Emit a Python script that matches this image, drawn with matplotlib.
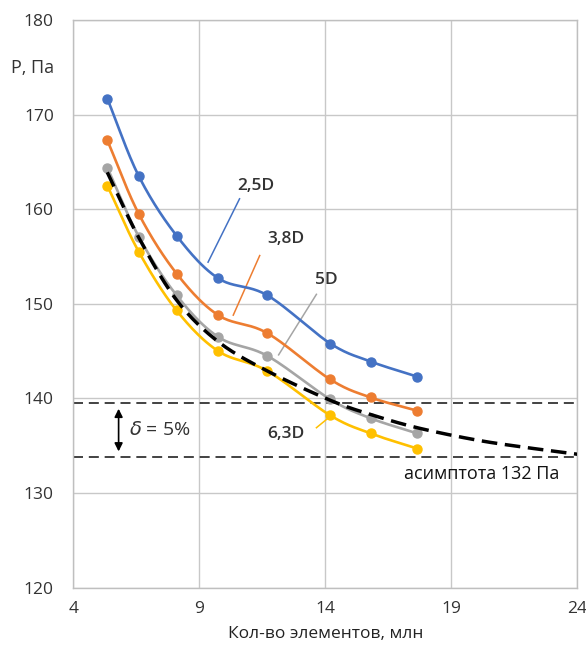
#!/usr/bin/env python3

import matplotlib

matplotlib.use("Agg")
import matplotlib.pyplot as plt
import numpy as np

plt.rcParams["font.family"] = ["Open Sans", "DejaVu Sans"]

# Mesh size, million elements
n_elements = [5.35, 6.6, 8.1, 9.75, 11.7, 14.2, 15.8, 17.65]

# Pressure, Pa, per domain size
p_25d = [171.7, 163.5, 157.2, 152.7, 150.9, 145.8, 143.9, 142.3]
p_38d = [167.3, 159.5, 153.2, 148.8, 146.9, 142.0, 140.1, 138.7]
p_5d = [164.4, 157.1, 150.9, 146.5, 144.5, 139.9, 137.9, 136.3]
p_63d = [162.5, 155.5, 149.3, 145.0, 142.9, 138.2, 136.3, 134.7]

# Asymptotic trend (black dashed)
asym_x = [5.35, 6.6, 8.1, 9.75, 11.7, 14.2, 15.8, 17.65, 20.0, 22.0, 24.0]
asym_y = [163.9, 157.0, 150.4, 146.0, 142.9, 139.8, 138.3, 136.9, 135.6, 134.8, 134.1]

band_top = 139.5
band_bottom = 133.8

series = [
    ("2,5D", p_25d, "#4472C4"),
    ("3,8D", p_38d, "#ED7D31"),
    ("5D", p_5d, "#A5A5A5"),
    ("6,3D", p_63d, "#FFC000"),
]


def smooth(x, y, n=24):
    """Catmull-Rom curve through the points, like Excel's smoothed line."""
    x = np.asarray(x, dtype=float)
    y = np.asarray(y, dtype=float)
    px = np.concatenate([[2 * x[0] - x[1]], x, [2 * x[-1] - x[-2]]])
    py = np.concatenate([[2 * y[0] - y[1]], y, [2 * y[-1] - y[-2]]])
    t = np.linspace(0, 1, n)
    xs, ys = [], []
    for i in range(1, len(px) - 2):
        for arr, out in ((px, xs), (py, ys)):
            p0, p1, p2, p3 = arr[i - 1], arr[i], arr[i + 1], arr[i + 2]
            out.append(
                0.5
                * (
                    2 * p1
                    + (-p0 + p2) * t
                    + (2 * p0 - 5 * p1 + 4 * p2 - p3) * t**2
                    + (-p0 + 3 * p1 - 3 * p2 + p3) * t**3
                )
            )
    return np.concatenate(xs), np.concatenate(ys)


def main() -> None:
    fig = plt.figure(figsize=(5.86, 6.45), dpi=100)
    ax = fig.add_axes([0.125, 0.089, 0.86, 0.88])

    for label, values, color in series:
        sx, sy = smooth(n_elements, values)
        ax.plot(sx, sy, color=color, lw=1.9, zorder=3)
        ax.plot(n_elements, values, "o", color=color, ms=6.5, zorder=4)

    ax_x, ax_y = smooth(asym_x, asym_y)
    ax.plot(ax_x, ax_y, color="black", lw=2.5, dashes=(4.5, 2.2), zorder=5)

    for yv in (band_top, band_bottom):
        ax.axhline(yv, color="#222222", lw=1.2, dashes=(6, 3.5), zorder=2)

    # curve labels with leader lines
    txt = dict(fontsize=12.5, fontweight="semibold", color="#333333", ha="center", va="center")
    ax.text(11.25, 162.4, "2,5D", **txt)
    ax.plot([10.6, 9.35], [161.1, 154.4], color="#4472C4", lw=1.1)
    ax.text(12.45, 156.8, "3,8D", **txt)
    ax.plot([11.4, 10.35], [155.1, 148.8], color="#ED7D31", lw=1.1)
    ax.text(14.05, 152.5, "5D", **txt)
    ax.plot([13.65, 12.15], [151.0, 144.6], color="#A5A5A5", lw=1.1)
    ax.text(12.45, 136.2, "6,3D", **txt)
    ax.plot([13.65, 14.2], [136.9, 138.1], color="#FFC000", lw=1.1)

    ax.annotate(
        "",
        xy=(5.8, band_bottom + 0.3),
        xytext=(5.8, band_top - 0.3),
        arrowprops=dict(arrowstyle="<|-|>", color="black", lw=1.2, mutation_scale=12),
    )
    ax.text(6.2, 136.7, r"$\delta$ = 5%", fontsize=14, color="#333333", va="center")
    ax.text(20.2, 132.0, "асимптота 132 Па", fontsize=13, color="#111111", ha="center", va="center")

    ax.set_xlim(4, 24)
    ax.set_ylim(120, 180)
    ax.set_xticks([4, 9, 14, 19, 24])
    ax.set_yticks(np.arange(120, 181, 10))
    ax.grid(True, color="#C8C8C8", lw=1.0, zorder=0)
    ax.set_axisbelow(True)
    for spine in ax.spines.values():
        spine.set_color("#BFBFBF")
        spine.set_linewidth(1.0)
    ax.tick_params(length=0, labelsize=12.5, labelcolor="#333333")
    ax.tick_params(axis="y", pad=14)
    ax.tick_params(axis="x", pad=10)
    ax.set_xlabel("Кол-во элементов, млн", fontsize=12.5, color="#222222", labelpad=6)
    fig.text(0.055, 0.894, "P, Па", fontsize=13, color="#333333", ha="center", va="center")

    fig.savefig("out.png", dpi=100)


if __name__ == "__main__":
    main()
